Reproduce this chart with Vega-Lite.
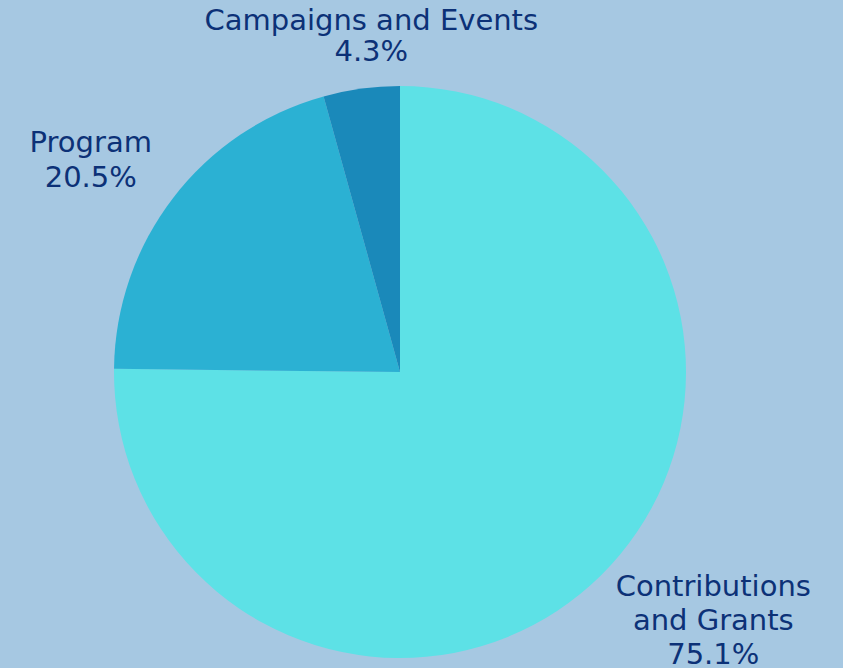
{
  "$schema": "https://vega.github.io/schema/vega-lite/v6.json",
  "width": 800,
  "height": 592,
  "autosize": {"type": "none"},
  "padding": {"left": 0, "right": 43, "top": 76, "bottom": 0},
  "background": "#A6C8E2",
  "config": {"view": {"stroke": null}, "text": {"lineBreak": "\n"}},
  "data": {
    "values": [
      {"category": "Contributions and Grants", "value": 75.1, "label": "Contributions\nand Grants\n75.1%"},
      {"category": "Program", "value": 20.5, "label": "Program\n20.5%"},
      {"category": "Campaigns and Events", "value": 4.3, "label": "Campaigns and Events\n4.3%"}
    ]
  },
  "encoding": {
    "theta": {"field": "value", "type": "quantitative", "stack": true},
    "order": {"field": "value", "type": "quantitative", "sort": "descending"}
  },
  "layer": [
    {
      "mark": {"type": "arc", "outerRadius": 286},
      "encoding": {
        "color": {
          "field": "category",
          "type": "nominal",
          "scale": {
            "domain": ["Contributions and Grants", "Program", "Campaigns and Events"],
            "range": ["#5DE1E6", "#2BB1D3", "#1A89BA"]
          },
          "legend": null
        }
      }
    },
    {
      "mark": {"type": "text", "radius": 400, "dx": 32, "dy": -69, "font": "DejaVu Sans", "fontSize": 29, "lineHeight": 34, "color": "#0C3177", "align": "center", "baseline": "middle"},
      "encoding": {
        "text": {"condition": {"test": "datum.category === 'Contributions and Grants'", "field": "label"}, "value": ""}
      }
    },
    {
      "mark": {"type": "text", "radius": 375, "dx": -12, "dy": 0, "font": "DejaVu Sans", "fontSize": 29, "lineHeight": 35, "color": "#0C3177", "align": "center", "baseline": "middle"},
      "encoding": {
        "text": {"condition": {"test": "datum.category === 'Program'", "field": "label"}, "value": ""}
      }
    },
    {
      "mark": {"type": "text", "radius": 339, "dx": 17, "dy": -15, "font": "DejaVu Sans", "fontSize": 29, "lineHeight": 31, "color": "#0C3177", "align": "center", "baseline": "middle"},
      "encoding": {
        "text": {"condition": {"test": "datum.category === 'Campaigns and Events'", "field": "label"}, "value": ""}
      }
    }
  ]
}
